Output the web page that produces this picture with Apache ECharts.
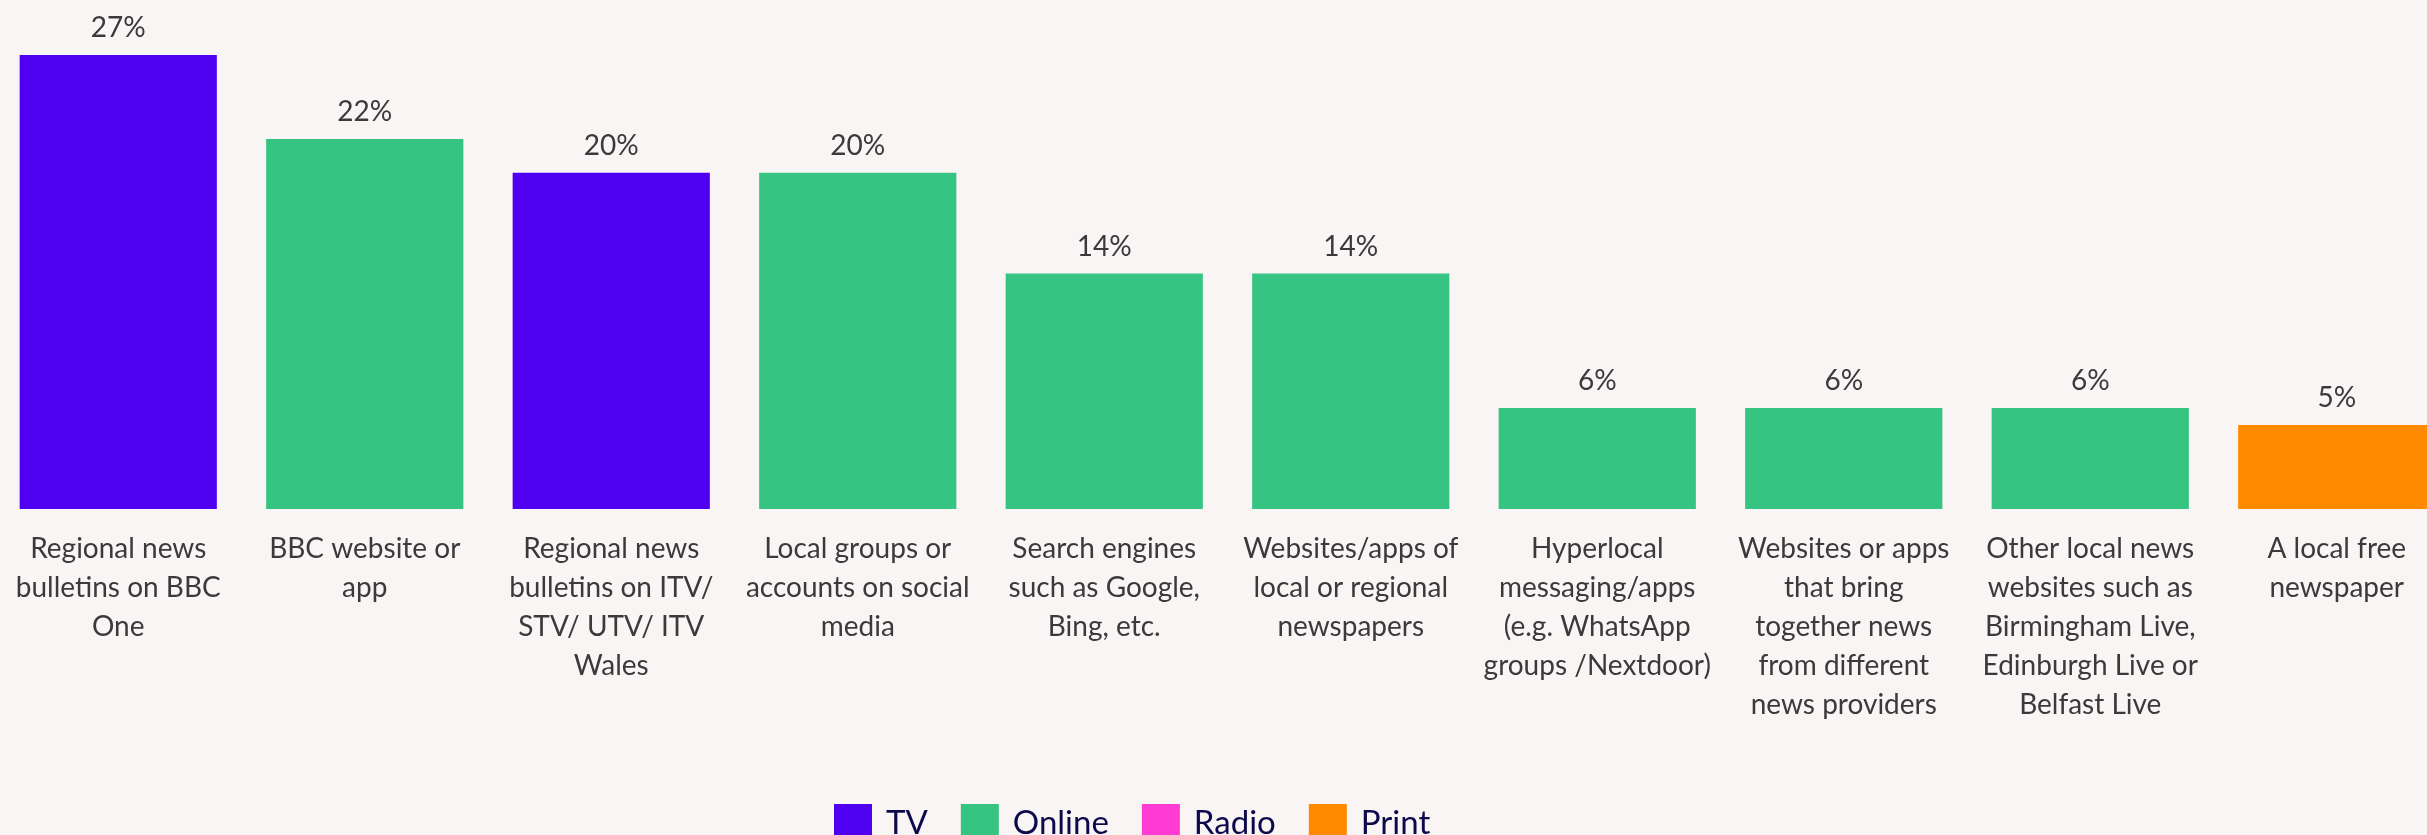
<!DOCTYPE html>
<html>
<head>
<meta charset="utf-8">
<script src="https://cdn.jsdelivr.net/npm/echarts@6/dist/echarts.min.js"></script>
<style>
html,body{margin:0;padding:0;background:#F8F5F4;overflow:hidden;width:2427px;height:835px;position:relative;}
#chart{position:absolute;left:-4.75px;top:0;width:2470px;height:835px;}
</style>
</head>
<body>
<div id="chart"></div>
<script>
const categories = [
  "Regional news\nbulletins on BBC\nOne",
  "BBC website or\napp",
  "Regional news\nbulletins on ITV/\nSTV/ UTV/ ITV\nWales",
  "Local groups or\naccounts on social\nmedia",
  "Search engines\nsuch as Google,\nBing, etc.",
  "Websites/apps of\nlocal or regional\nnewspapers",
  "Hyperlocal\nmessaging/apps\n(e.g. WhatsApp\ngroups /Nextdoor)",
  "Websites or apps\nthat bring\ntogether news\nfrom different\nnews providers",
  "Other local news\nwebsites such as\nBirmingham Live,\nEdinburgh Live or\nBelfast Live",
  "A local free\nnewspaper"
];
const values = [27, 22, 20, 20, 14, 14, 6, 6, 6, 5];
const mediaTypes = ["TV", "Online", "TV", "Online", "Online", "Online", "Online", "Online", "Online", "Print"];
const legendNames = ["TV", "Online", "Radio", "Print"];
const colors = {TV: "#5000F0", Online: "#35C481", Radio: "#FF3BD4", Print: "#FF8A00"};

const series = legendNames.map(name => ({
  name: name,
  type: "bar",
  stack: "all",
  barCategoryGap: "20%",
  itemStyle: {color: colors[name]},
  label: {
    show: true,
    position: "top",
    distance: 13,
    formatter: "{c}%",
    fontFamily: "Lato",
    fontSize: 28,
    color: "#3A3A3A"
  },
  data: values.map((v, i) => mediaTypes[i] === name ? v : "-")
}));

const chart = echarts.init(document.getElementById("chart"));
chart.setOption({
  backgroundColor: "#F8F5F4",
  animation: false,
  grid: {left: 0, width: 2465, top: 55, bottom: 326, containLabel: false},
  legend: {
    data: legendNames,
    left: 834,
    top: 799,
    icon: "rect",
    itemWidth: 38,
    itemHeight: 38,
    itemGap: 33,
    textStyle: {fontFamily: "Lato", fontSize: 33, color: "#0D0A4B", padding: [0, 0, 0, 9]}
  },
  xAxis: {
    type: "category",
    data: categories,
    axisLine: {show: false},
    axisTick: {show: false},
    axisLabel: {
      interval: 0,
      margin: 20,
      fontFamily: "Lato",
      fontSize: 28,
      lineHeight: 39,
      color: "#3A3A3A",
      align: "center"
    }
  },
  yAxis: {
    type: "value",
    min: 0,
    max: 27,
    show: false,
    splitLine: {show: false}
  },
  series: series
});
</script>
</body>
</html>
